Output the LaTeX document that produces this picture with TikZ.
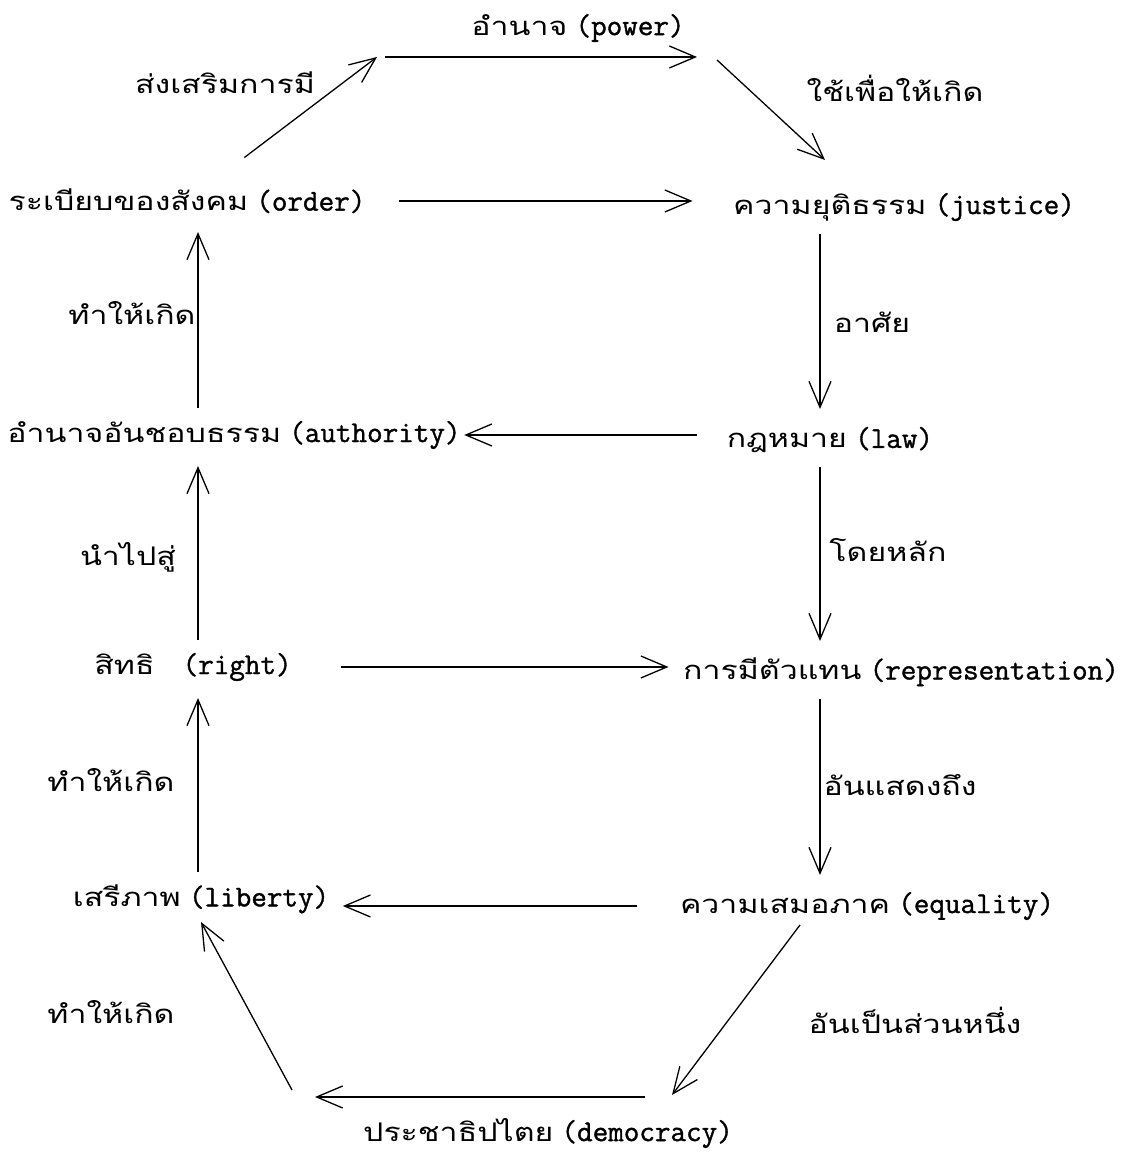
\documentclass[tikz,border=0pt]{standalone}
\usepackage{fontspec}
\setmonofont[FakeBold=1.2, Scale=1.12]{Latin Modern Mono}
\newfontfamily\thaifont[Script=Thai, Scale=0.95, FakeStretch=1.25]{Loma}
\usetikzlibrary{arrows.meta}

\newcommand{\term}[2]{{\thaifont #1} \texttt{(#2)}}

\begin{document}
\begin{tikzpicture}[x=1pt, y=1pt, line width=1.3pt,
		every node/.style={inner sep=0pt, font=\fontsize{27}{32}\selectfont},
		lbl/.style={font=\fontsize{27}{32}\selectfont\thaifont},
		arr/.style={-{Straight Barb[length=26pt, width=22pt]}},
		col/.style={shorten <=27pt, shorten >=31pt}]
		\useasboundingbox (0, 0) rectangle (1128, 1154);
		
		% concepts
		\node (power) at (578, 1126) {\term{อำนาจ}{power}};
		\node (order) at (187, 953) {\term{ระเบียบของสังคม}{order}};
		\node (justice) at (904, 947) {\term{ความยุติธรรม}{justice}};
		\node (authority) at (234, 719) {\term{อำนาจอันชอบธรรม}{authority}};
		\node (law) at (830, 714) {\term{กฎหมาย}{law}};
		\node (right) at (193, 487) {{\thaifont สิทธิ}\hspace{28pt}\texttt{(right)}};
		\node (repr) at (901, 482) {\term{การมีตัวแทน}{representation}};
		\node (liberty) at (201, 255) {\term{เสรีภาพ}{liberty}};
		\node (equality) at (867, 248) {\term{ความเสมอภาค}{equality}};
		\node (democracy) at (548, 21) {\term{ประชาธิปไตย}{democracy}};
		
		% labels on the arrows
		\node[lbl] (lpromote) at (225, 1071) {ส่งเสริมการมี};
		\node[lbl] (luse) at (895, 1066) {ใช้เพื่อให้เกิด};
		\node[lbl] (lcausea) at (132, 841) {ทำให้เกิด};
		\node[lbl] (lrely) at (872, 832) {อาศัย};
		\node[lbl] (llead) at (128, 597) {นำไปสู่};
		\node[lbl] (lprinc) at (888, 604) {โดยหลัก};
		\node[lbl] (lcauseb) at (111, 374) {ทำให้เกิด};
		\node[lbl] (lshow) at (900, 369) {อันแสดงถึง};
		\node[lbl] (lcausec) at (111, 142) {ทำให้เกิด};
		\node[lbl] (lpart) at (915, 134) {อันเป็นส่วนหนึ่ง};
		
		\coordinate (lcol) at (198, 0);
		\coordinate (rcol) at (820, 0);
		\coordinate (pa) at (377, 1097);
		\coordinate (pb) at (385, 1097);
		\coordinate (pc) at (697, 1097);
		\coordinate (pd) at (717, 1094);
		\coordinate (da) at (672, 59);
		\coordinate (db) at (645, 57);
		\coordinate (dc) at (315, 57);
		\coordinate (dd) at (292, 64);
		
		% top
		\draw[arr, shorten <=72pt] (order.center) -- (pa);
		\draw[arr] (pb) -- (pc);
		\draw[arr] (pd) -- ([shift={(-79, 47)}]justice.center);
		\draw[arr, shorten <=33pt, shorten >=40pt] (order.east) -- (order.east -| justice.west);
		
		% right column
		\draw[arr, col] (justice -| rcol) -- (law -| rcol);
		\draw[arr, col] (law -| rcol) -- (repr -| rcol);
		\draw[arr, col] (repr -| rcol) -- (equality -| rcol);
		
		% left column
		\draw[arr, col] (liberty -| lcol) -- (right -| lcol);
		\draw[arr, col] (right -| lcol) -- (authority -| lcol);
		\draw[arr, col] (authority -| lcol) -- (order -| lcol);
		
		% across
		\draw[arr, shorten <=29pt, shorten >=3pt] (authority.east -| law.west) -- (authority.east);
		\draw[arr, shorten <=49pt, shorten >=14pt] (right.east) -- (right.east -| repr.west);
		\draw[arr, shorten <=42pt, shorten >=13pt] (equality.west) -- (equality.west -| liberty.east);
		
		% bottom
		\draw[arr] ([shift={(-67, -19)}]equality.center) -- (da);
		\draw[arr] (db) -- (dc);
		\draw[arr] (dd) -- ([yshift=-23pt]liberty.center);
	\end{tikzpicture}
\end{document}
